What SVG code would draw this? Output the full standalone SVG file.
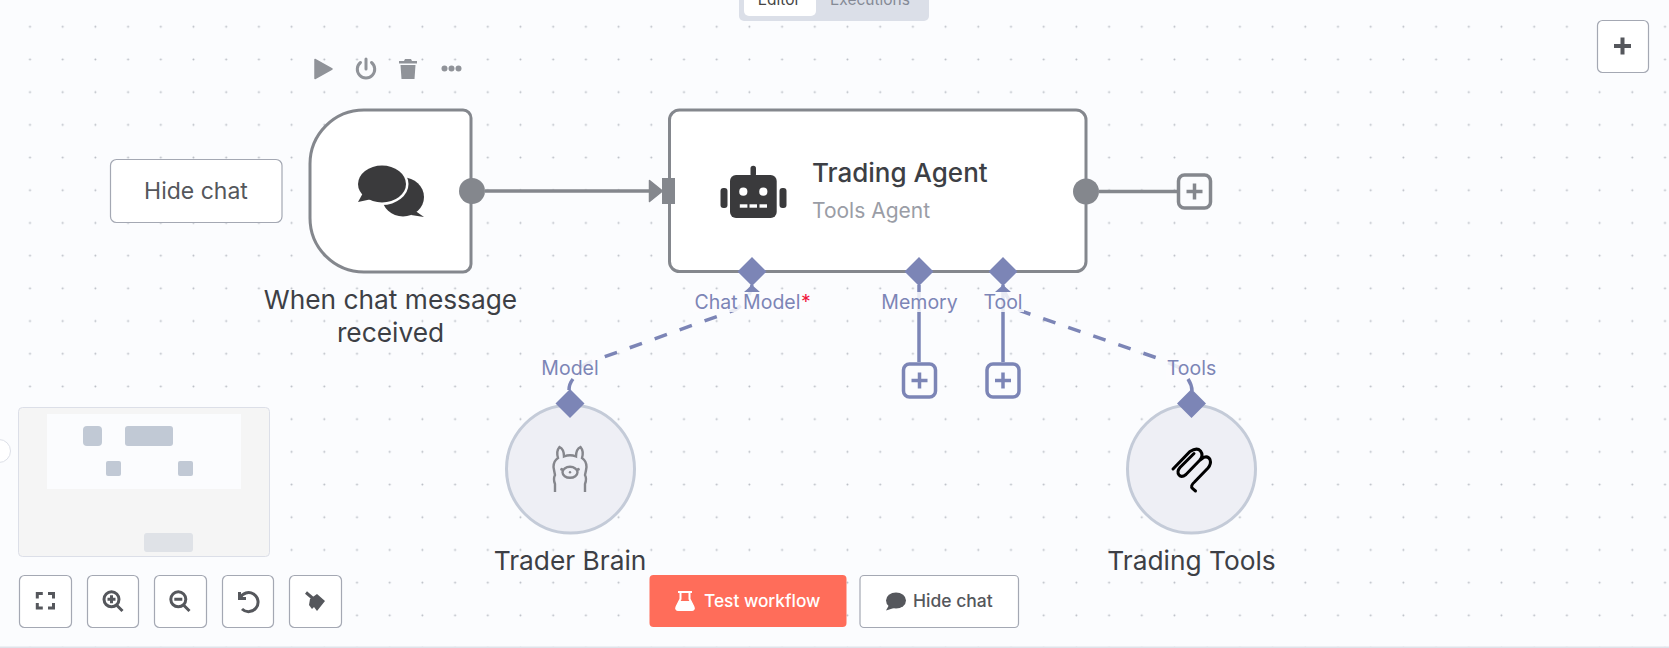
<svg xmlns="http://www.w3.org/2000/svg" width="1669" height="648" viewBox="0 0 1669 648">
<style>
text{font-family:Inter,"Liberation Sans",sans-serif}
.nodebox{fill:#fff;stroke:#84878d;stroke-width:3}
.port{fill:#84878d}
.conn{fill:none;stroke:#84878d;stroke-width:3.500}
.ai{fill:none;stroke:#7c85b6;stroke-width:3.500}
.dash{stroke-dasharray:13 13.500}
.dia{fill:#7c85b6}
.lbl{font-size:19.500px;fill:#7c85b6;text-anchor:middle}
.lblbg{fill:#fbfcfe;fill-opacity:.85}
.name{font-size:26.300px;fill:#3d3f45;text-anchor:middle}
.sub{fill:#eeeff5;stroke:#c4cbd8;stroke-width:3}
.btn{fill:#fff;stroke:#a4a8b3;stroke-width:1.200}
.ic{fill:#55575c}
.ics{fill:none;stroke:#55575c;stroke-width:3}
.tb{fill:#909399}
.mm{fill:#c1c9d5}
</style>
<defs><pattern id="dots" width="32.7" height="32.7" patternUnits="userSpaceOnUse" x="13.7" y="10.4"><circle cx="16.3" cy="16.3" r="1" fill="#b8bcc4"/></pattern></defs>
<rect width="1669" height="648" fill="#fbfcfe"/>
<rect width="1669" height="648" fill="url(#dots)"/>
<rect y="646.500" width="1669" height="1.500" fill="#dfe3ea"/>
<g id="connectors">
<path class="conn" d="M485 191H650"/>
<path d="M649.500 180.500l13 10.500-13 10.500z" class="port" stroke="#84878d" stroke-width="1.500" stroke-linejoin="round"/>
<path class="conn" d="M1099 191.500H1177"/>
<path class="ai dash" stroke-dashoffset="-24" d="M752 285Q750 300 735 310L590 362L575 370"/>
<path class="ai dash" stroke-dashoffset="-3" d="M1003 285Q1005 300 1021 311L1160 359L1185 370"/>
<path class="ai" d="M919 285V362M1003 285V362"/>
</g>
<g id="canvas-tabs">
<rect x="739" y="-10" width="190" height="31" rx="5" fill="#dbdfe8"/>
<rect x="744" y="-10" width="72" height="26" rx="5" fill="#fff"/>
<text x="779" y="5" font-size="15.500" fill="#444" text-anchor="middle">Editor</text>
<text x="870" y="5" font-size="15.500" fill="#858a96" text-anchor="middle">Executions</text>
</g>
<g id="hide-chat-top"><rect class="btn" x="110.500" y="159.500" width="171.500" height="63" rx="6"/><text x="196" y="199" font-size="23" fill="#55575c" text-anchor="middle">Hide chat</text></g>
<g id="node-toolbar">
<path class="tb" d="M315 59.500l17 9.500-17 9.500z" stroke="#909399" stroke-width="1.500" stroke-linejoin="round"/>
<path d="M360.500 62.500a8.700 8.700 0 1 0 11 0M366 59v10" fill="none" stroke="#909399" stroke-width="3" stroke-linecap="round"/>
<path class="tb" d="M399 61h5l1-2h6l1 2h5v2.500h-18zM400.500 65h15l-1 14h-13z"/>
<circle class="tb" cx="444.500" cy="68.500" r="3"/><circle class="tb" cx="451.500" cy="68.500" r="3"/><circle class="tb" cx="458.500" cy="68.500" r="3"/>
</g>
<g id="node-trigger">
<path class="nodebox" d="M364 110H463a8 8 0 0 1 8 8V264a8 8 0 0 1-8 8H364a54 54 0 0 1-54-54V164a54 54 0 0 1 54-54z"/>
<circle class="port" cx="472" cy="191" r="13"/>
<ellipse cx="403" cy="197" rx="21" ry="19.500" fill="#3a3a3c"/><path d="M414 210l10 7-13-2z" fill="#3a3a3c"/>
<ellipse cx="382" cy="184" rx="26.500" ry="21" fill="#fff"/>
<ellipse cx="382" cy="184" rx="24" ry="18.500" fill="#3a3a3c"/><path d="M363 193l-5 9 14-3z" fill="#3a3a3c"/>
<text class="name" x="390.500" y="309">When chat message</text><text class="name" x="390.500" y="342">received</text>
</g>
<g id="node-agent">
<rect class="nodebox" x="669.500" y="110" width="416.500" height="161.500" rx="10"/>
<rect class="port" x="662" y="178" width="13" height="26"/>
<circle class="port" cx="1086" cy="191.500" r="13"/>
<g fill="#3a3a3c"><rect x="730" y="175" width="46.700" height="43" rx="6"/><rect x="720.500" y="188" width="7" height="20" rx="3"/><rect x="779.500" y="188" width="7" height="20" rx="3"/><rect x="750.500" y="165.700" width="5.500" height="11" rx="2.700"/></g>
<g fill="#fff"><circle cx="743.300" cy="191.700" r="4.100"/><circle cx="763.300" cy="191.700" r="4.100"/><rect x="739.800" y="204.300" width="7.600" height="3.400"/><rect x="749.500" y="204.300" width="7.500" height="3.400"/><rect x="759.500" y="204.300" width="7.500" height="3.400"/></g>
<text x="812" y="182" font-size="26" font-weight="450" fill="#3d3f45">Trading Agent</text>
<text x="812" y="218" font-size="21" fill="#9a9da6">Tools Agent</text>
<path class="dia" d="M752 257l14.500 14.500-14.500 14.500-14.500-14.500zM919 257l14.500 14.500-14.500 14.500-14.500-14.500zM1003 257l14.500 14.500-14.500 14.500-14.500-14.500z"/>
<path class="dia" d="M744 292l8-7 8 7zM995 292l8-7 8 7z"/>
<rect class="lblbg" x="693" y="292" width="118" height="20"/><rect class="lblbg" x="880" y="292" width="79" height="20"/><rect class="lblbg" x="983" y="292" width="41" height="20"/>
<text class="lbl" x="747.500" y="309">Chat Model</text><text x="806" y="309" font-size="19.500" fill="#f0183c" text-anchor="middle">*</text>
<text class="lbl" x="919.500" y="309">Memory</text><text class="lbl" x="1003" y="309">Tool</text>
</g>
<g id="plus-main"><rect x="1178.500" y="175" width="32" height="33" rx="6" fill="#fbfcfe" stroke="#84878d" stroke-width="3.500"/><path d="M1186.500 191.500h16M1194.500 183.500v16" stroke="#84878d" stroke-width="3.500"/></g>
<g id="plus-memory"><rect x="903.500" y="364" width="32" height="33" rx="6" fill="#fbfcfe" stroke="#7c85b6" stroke-width="3.500"/><path d="M911.500 380.500h16M919.500 372.500v16" stroke="#7c85b6" stroke-width="3.500"/></g>
<g id="plus-tool"><rect x="987" y="364" width="32" height="33" rx="6" fill="#fbfcfe" stroke="#7c85b6" stroke-width="3.500"/><path d="M995 380.500h16M1003 372.500v16" stroke="#7c85b6" stroke-width="3.500"/></g>
<g id="node-brain">
<circle class="sub" cx="570.500" cy="469" r="64"/>
<path class="dia" d="M570 389l14.500 14.500-14.500 14.500-14.500-14.500z"/>
<rect class="lblbg" x="540" y="356" width="60" height="24"/>
<text class="lbl" x="570" y="375">Model</text>
<path d="M569 390q0-6 4-11" class="ai"/>
<g fill="none" stroke="#85868c" stroke-width="2.400"><path d="M555 492V484Q553 479 555 475Q554 470 553.500 467Q553.500 461 558 458Q556 451 559.500 447Q564 449 564 456.500Q570 454 576 456.500Q576 449 580.500 447Q584 451 582 458Q586.500 461 586.500 467Q586 471 585 475Q587 479 585 484V492"/><ellipse cx="570" cy="472.300" rx="7.500" ry="5.500"/></g>
<circle cx="561.700" cy="469.300" r="1.500" fill="#85868c"/><circle cx="578.300" cy="469.300" r="1.500" fill="#85868c"/><circle cx="570" cy="472.300" r="1.200" fill="#85868c"/>
<text class="name" x="570" y="570">Trader Brain</text>
</g>
<g id="node-tools">
<circle class="sub" cx="1191.500" cy="469" r="64"/>
<path class="dia" d="M1191.500 389l14.500 14.500-14.500 14.500-14.500-14.500z"/>
<rect class="lblbg" x="1166" y="356" width="51" height="24"/>
<text class="lbl" x="1191.500" y="375">Tools</text>
<path d="M1192 391q0-6-4-12" class="ai"/>
<path d="M1173 469L1190 451.500Q1197 447 1200.500 451Q1204 455.500 1199.500 460.500L1186 474.500Q1181.500 478 1179 475Q1176.500 471.500 1180 467.500L1194 453.500M1199.500 460.500L1203.500 457.500Q1208 455.500 1210 459.500Q1211.500 464 1208 468L1194.500 482Q1190 486 1192.500 488.500L1195.500 491" fill="none" stroke="#000" stroke-width="3" stroke-linecap="round"/>
<text class="name" x="1191.500" y="570">Trading Tools</text>
</g>
<g id="minimap">
<rect x="18.500" y="407.500" width="251" height="149" rx="4" fill="#f5f5f5" stroke="#dcdfe8"/>
<rect x="47" y="414" width="194" height="75" fill="#fbfcfe"/>
<rect class="mm" x="83" y="426" width="19" height="20" rx="4"/><rect class="mm" x="125" y="426" width="48" height="20" rx="3"/><rect class="mm" x="106" y="461" width="15" height="15" rx="2"/><rect class="mm" x="178" y="461" width="15" height="15" rx="2"/>
<rect x="144" y="533" width="49" height="19" rx="3" fill="#dfe2e7"/>
<circle cx="-1" cy="451" r="11.500" fill="#fff" stroke="#dde0e8"/>
</g>
<g id="zoom-controls">
<rect class="btn" x="19.500" y="575.500" width="52" height="52" rx="5"/>
<rect class="btn" x="87.500" y="575.500" width="51" height="52" rx="5"/>
<rect class="btn" x="154.500" y="575.500" width="52" height="52" rx="5"/>
<rect class="btn" x="222.500" y="575.500" width="51" height="52" rx="5"/>
<rect class="btn" x="289.500" y="575.500" width="52" height="52" rx="5"/>
<path class="ics" d="M37.300 598.500v-5h5.500M48 593.500h5.500v5M53.500 603v5h-5.500M42.800 608h-5.500v-5"/>
<circle class="ics" cx="111.500" cy="599.300" r="7.500"/><path class="ics" d="M116.500 605l6 6M107.500 599.300h8M111.500 595.300v8"/>
<circle class="ics" cx="178.300" cy="599.300" r="7.500"/><path class="ics" d="M183.500 605l6 6M174.300 599.300h8"/>
<path class="ics" d="M240 598A9.500 9.500 0 1 1 242 609M239.500 592V598.500H246"/>
<path class="ics" d="M306 592.500L313 598.500"/><path class="ic" d="M310 599L317 594L325 601L317 611L314 607L312 609L309 605z"/>
</g>
<g id="plus-corner"><rect class="btn" x="1597.500" y="20.500" width="51" height="52" rx="5"/><path d="M1614 46h17M1622.500 37.500v17" stroke="#55575c" stroke-width="4"/></g>
<g id="test-workflow"><rect x="649.500" y="575" width="197" height="52" rx="4" fill="#ff6d5a"/>
<path d="M678 592h14M680.500 592v7l-4 8q-1 3 2 3h13q3 0 2-3l-4-8v-7" fill="none" stroke="#fff" stroke-width="2"/>
<path d="M679 601h12l3.500 7q0 2.500-2.500 2.500h-14q-2.500 0-2.500-2.500z" fill="#fff"/>
<text x="704" y="607" font-size="17.300" font-weight="450" fill="#fff">Test workflow</text></g>
<g id="hide-chat-bottom"><rect class="btn" x="860" y="575.500" width="158.500" height="52" rx="4"/>
<ellipse cx="896" cy="600.500" rx="10" ry="8" class="ic"/><path class="ic" d="M889 605l-3 5.500 8-2.500z"/>
<text x="913" y="607" font-size="17.500" font-weight="450" fill="#55575c">Hide chat</text></g>
</svg>
